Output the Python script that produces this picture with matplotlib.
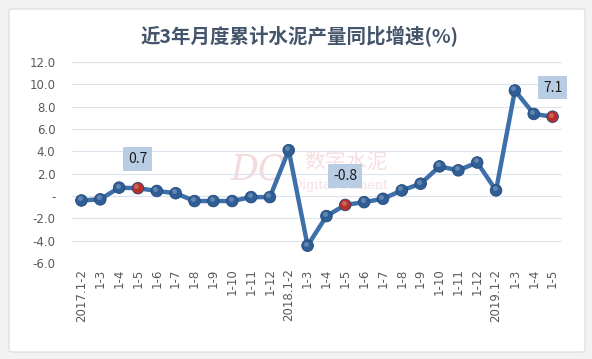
import numpy as np
import matplotlib
import matplotlib.pyplot as plt
from matplotlib.patches import FancyBboxPatch
from matplotlib.ticker import FuncFormatter

matplotlib.use('agg')
plt.rcParams['font.family'] = ['Noto Sans CJK SC', 'DejaVu Sans']

# data
months = ['2017.1-2', '1-3', '1-4', '1-5', '1-6', '1-7', '1-8', '1-9', '1-10', '1-11', '1-12',
          '2018.1-2', '1-3', '1-4', '1-5', '1-6', '1-7', '1-8', '1-9', '1-10', '1-11', '1-12',
          '2019.1-2', '1-3', '1-4', '1-5']
growth = [-0.4, -0.3, 0.75, 0.7, 0.45, 0.25, -0.45, -0.45, -0.45, -0.1, -0.1,
          4.1, -4.45, -1.8, -0.8, -0.55, -0.25, 0.5, 1.1, 2.65, 2.3, 3.0,
          0.5, 9.45, 7.35, 7.1]
highlight = [3, 14, 25]
yticks = [-6, -4, -2, 0, 2, 4, 6, 8, 10, 12]

fig = plt.figure(figsize=(5.92, 3.59), dpi=100)
fig.patch.set_facecolor('#F2F2F2')
panel = FancyBboxPatch((9 / 592, 7 / 359), 576 / 592, 343 / 359,
                       boxstyle='round,pad=0,rounding_size=0.005',
                       transform=fig.transFigure, facecolor='white',
                       edgecolor='#D9D9D9', linewidth=0.8, zorder=-10)
fig.patches.append(panel)

ax = fig.add_axes([72 / 592, 96 / 359, 490 / 592, 201 / 359])
ax.set_facecolor('none')
ax.set_zorder(2)
x = np.arange(len(months))

ax.plot(x, growth, color='#3D6FA8', lw=3.2, zorder=2)
colors = ['#B8302A' if i in highlight else '#2F5E96' for i in range(len(x))]
ax.scatter(x, growth, s=70, c=colors, edgecolors='#24497A', linewidths=0.6, zorder=3)
# small highlight on marker spheres
ax.scatter(x - 0.08, np.array(growth) + 0.18, s=12, c='white', alpha=0.25, linewidths=0, zorder=4)

for i in highlight:
    v = growth[i]
    ax.annotate('%.1f' % v, (x[i], v), xytext=(0, 21), textcoords='offset points',
                ha='center', va='center', fontsize=10, color='#1A1A1A',
                bbox=dict(boxstyle='square,pad=0.35', facecolor='#B8CCE4', edgecolor='none'),
                zorder=5)

ax.set_xlim(-0.5, len(x) - 0.5)
ax.set_ylim(-6, 12)
ax.set_yticks(yticks)
ax.yaxis.set_major_formatter(FuncFormatter(lambda v, p: '-' if v == 0 else '%.1f' % v))
ax.set_xticks(x)
ax.set_xticklabels(months, rotation=90, fontsize=8.5, color='#595959', family='DejaVu Sans')
for lab in ax.get_yticklabels():
    lab.set_family('DejaVu Sans')
ax.tick_params(axis='y', labelsize=8.5, labelcolor='#595959', length=0, pad=12)
ax.tick_params(axis='x', length=0, pad=4)
ax.grid(axis='y', color='#DCE3EC', lw=0.8)
ax.set_axisbelow(True)
for s in ax.spines.values():
    s.set_visible(False)

# faint watermark
fig.text(0.436, 0.528, 'DC', fontsize=25, color='#F3DADD', family='DejaVu Serif',
         style='italic', ha='center', va='center', zorder=1)
fig.text(0.585, 0.549, '数字水泥', fontsize=15, color='#F5DFE2', ha='center', va='center', zorder=1)
fig.text(0.575, 0.482, 'Digital Cement', fontsize=9, color='#F5DFE2', family='DejaVu Serif',
         ha='center', va='center', zorder=1)

fig.text(0.506, 1 - 37 / 359, '近3年月度累计水泥产量同比增速(%)', fontsize=14,
         fontweight='bold', color='#44546A', ha='center', va='center')

fig.savefig('out.png', dpi=100, facecolor=fig.get_facecolor())
